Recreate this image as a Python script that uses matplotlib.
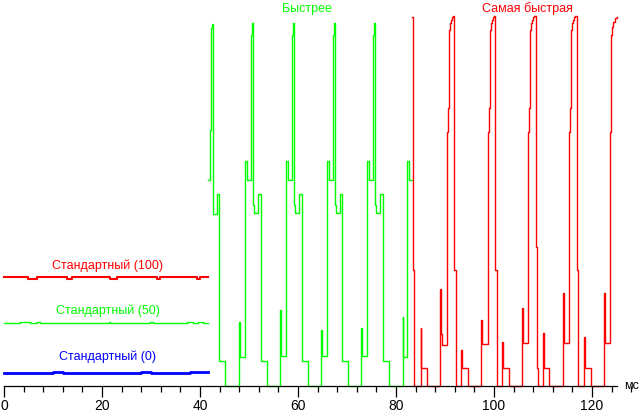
import matplotlib
matplotlib.use("Agg")
import matplotlib.pyplot as plt
from matplotlib.ticker import MultipleLocator

plt.rcParams['font.family'] = ['Liberation Sans', 'DejaVu Sans']

# ---- data (time in ms, brightness in arbitrary units) ----
std100_t = [0.0, 4.9, 6.7, 12.8, 13.8, 21.6, 23.0, 31.2, 31.8, 39.3, 40.0, 41.6]
std100_v = [109, 107, 109, 107, 109, 107, 109, 107, 109, 107, 109, 109]

std50_t = [0.0, 3.3, 5.3, 6.7, 7.3, 21.5, 21.7, 29.8, 30.4, 37.3, 38.6, 39.6, 40.6, 41.6]
std50_v = [63, 64, 63, 64, 63, 64, 63, 64, 63, 64, 63, 64, 63, 63]

std0_t = [0.0, 10.0, 12.0, 20.0, 28.0, 30.0, 38.0, 41.6]
std0_v = [13, 14, 13, 13, 14, 13, 14, 14]

fast_t = [41.63, 42.10, 42.24, 42.40, 42.59, 42.71, 43.53, 43.88, 45.10, 48.02, 48.12,
          49.18, 49.59, 50.41, 50.67, 50.88, 51.02, 51.90, 52.39, 53.61, 56.39, 56.49,
          57.55, 57.96, 58.78, 59.04, 59.24, 59.39, 60.27, 60.76, 61.98, 64.69, 64.80,
          65.86, 66.27, 67.08, 67.35, 67.55, 67.69, 68.57, 69.06, 70.29, 72.92, 73.02,
          74.08, 74.49, 75.31, 75.57, 75.78, 75.92, 76.80, 77.29, 78.51, 81.37, 81.47,
          82.31, 82.71, 83.20]
fast_v = [206, 256, 358, 362, 180, 172, 192, 25, 0, 64, 29,
          225, 206, 351, 363, 181, 173, 192, 25, 0, 76, 30,
          225, 206, 351, 363, 181, 173, 192, 25, 0, 56, 30,
          225, 206, 351, 363, 181, 173, 192, 25, 0, 58, 30,
          225, 206, 351, 363, 181, 173, 192, 25, 0, 69, 29,
          225, 206, 206]

fastest_t = [83.27, 83.47, 83.73, 85.04, 85.14, 86.39, 89.04, 89.24, 89.39,
             90.47, 90.61, 90.76, 91.02, 91.22, 91.37, 91.57,
             91.90, 92.18, 93.33, 93.43, 94.76, 97.29, 97.45,
             98.84, 98.98, 99.12, 99.39, 99.59, 99.73, 99.94,
             100.27, 100.55, 101.69, 101.80, 103.06, 105.78, 105.92,
             107.00, 107.14, 107.29, 107.55, 107.76, 107.90, 108.10,
             108.51, 108.78, 108.92, 110.06, 110.16, 111.22, 114.14, 114.29,
             115.37, 115.51, 115.65, 115.92, 116.12, 116.27, 116.47,
             116.88, 117.14, 118.43, 118.53, 119.73, 122.45, 122.59,
             123.67, 123.82, 123.94, 124.08, 124.35, 124.69, 125.04]
fastest_v = [369, 116, 0, 58, 18, 0, 97, 52, 41,
             254, 278, 356, 363, 366, 369, 370,
             116, 0, 36, 18, 0, 66, 42,
             254, 278, 356, 363, 366, 369, 370,
             116, 0, 44, 18, 0, 78, 43,
             254, 278, 356, 363, 366, 369, 370,
             139, 18, 0, 53, 18, 0, 93, 43,
             254, 278, 356, 363, 366, 369, 370,
             116, 0, 49, 18, 0, 93, 43,
             254, 278, 351, 359, 364, 368, 369]

labels = ['Стандартный (100)', 'Стандартный (50)', 'Стандартный (0)', 'Быстрее', 'Самая быстрая']
xticks_major = [0, 20, 40, 60, 80, 100, 120]

RED, GREEN, BLUE = '#ff0000', '#00ff00', '#0000ff'

fig = plt.figure(figsize=(6.39, 4.12), dpi=100)
ax = fig.add_axes([0, 0, 1, 1])
ax.set_xlim(-0.816, 129.59)
ax.set_ylim(-26, 386)

ax.plot(std100_t, std100_v, drawstyle='steps-post', color=RED, lw=1.5)
ax.plot(std50_t, std50_v, drawstyle='steps-post', color=GREEN, lw=1.0)
ax.plot(std0_t, std0_v, drawstyle='steps-post', color=BLUE, lw=2.0)
ax.plot(fast_t, fast_v, drawstyle='steps-post', color=GREEN, lw=1.0)
ax.plot(fastest_t, fastest_v, drawstyle='steps-post', color=RED, lw=1.0)

fs = 9
ax.text(21.2, 120, labels[0], color=RED, fontsize=fs, ha='center', va='center')
ax.text(21.2, 75, labels[1], color=GREEN, fontsize=fs, ha='center', va='center')
ax.text(21.2, 29, labels[2], color=BLUE, fontsize=fs, ha='center', va='center')
ax.text(61.8, 377, labels[3], color=GREEN, fontsize=fs, ha='center', va='center')
ax.text(106.8, 377, labels[4], color=RED, fontsize=fs, ha='center', va='center')
ax.text(128.1, 0, 'мс', color='black', fontsize=fs, ha='center', va='center')

for s in ['top', 'right', 'left']:
    ax.spines[s].set_visible(False)
ax.spines['bottom'].set_position(('data', 0))
ax.spines['bottom'].set_bounds(0, 125)
ax.spines['bottom'].set_linewidth(0.9)
ax.set_yticks([])
ax.set_xticks(xticks_major)
ax.set_xticklabels([str(v) for v in xticks_major])
ax.xaxis.set_minor_locator(MultipleLocator(4))
ax.tick_params(axis='x', which='major', length=8, width=0.9, pad=1, labelsize=10, direction='out')
ax.tick_params(axis='x', which='minor', length=4.3, width=0.9, direction='out')
ax.patch.set_visible(False)

fig.savefig('out.png', dpi=100)
